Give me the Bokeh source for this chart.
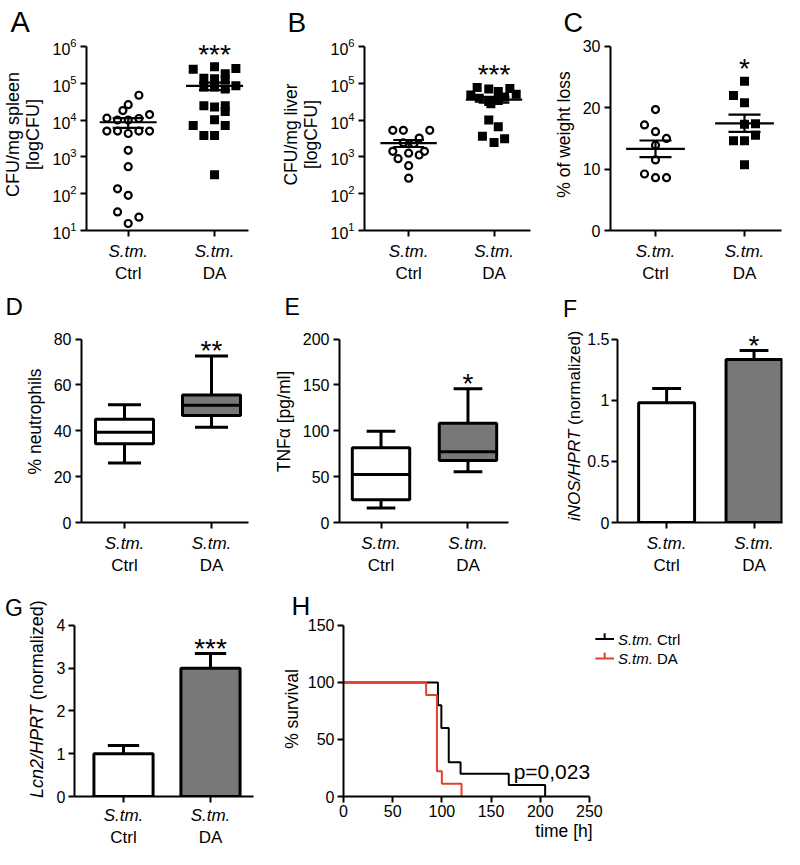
import numpy as np
from bokeh.plotting import figure
from bokeh.models import Range1d, FixedTicker, LinearAxis, Div
from bokeh.layouts import column, row
from bokeh.embed import file_html
from bokeh.resources import INLINE
from bokeh.core.properties import value

FONT = "Liberation Sans"
GRAY = "#787878"
RED = "#e2422c"

# ---------------- data ----------------
groups = ["Ctrl", "DA"]
prefix = "S.tm."
stars = {"A": "***", "B": "***", "C": "*", "D": "**", "E": "*", "F": "*", "G": "***"}

# A: CFU / mg spleen
a_ctrl = [47000, 26000, 18000, 14000, 11200, 10000, 10000, 11000, 5000, 5000,
          5000, 5000, 4300, 1500, 540, 135, 90, 32, 23, 15.5]
a_ctrl_slot = [1, 0, -0.5, 2, -2, -1, 0, 1, -2, -1, 1, 2, 0, 0, 0, -1, 0, -1, 1, 0]
a_da = [240000, 280000, 250000, 180000, 135000, 131000, 123000, 85000, 79000, 69000,
        79000, 24500, 22400, 24500, 17000, 10200, 7100, 7100, 3800, 3800, 325]
a_da_slot = [-2, 0, 2, 1, -1, 0, 1, 2, 0, 1, -1, -1, 0, 1, 1, 0, -2, 1, -1, 0, 0]

# B: CFU / mg liver
b_ctrl = [5250, 5250, 5250, 3240, 2400, 2290, 1410, 1410, 1260, 1120, 890, 575, 263]
b_ctrl_slot = [-1.5, -0.5, 2, 1, -0.5, 0.5, -1.5, 1.5, 0, 1, -1, 0, 0]
b_da = [76000, 69000, 72000, 48000, 59000, 50000, 39000, 32000, 34000, 42000,
        27500, 10000, 6600, 3600, 3100, 2450]
b_da_slot = [-1.6, -0.5, 1.5, -2.2, 0.4, 2.1, -1.4, -0.5, 0.4, 1, -0.3, -0.5, 0.4, -1.1, 1, 0]

# C: % of weight loss
c_ctrl = [19.7, 17.2, 16.1, 15.0, 13.9, 11.5, 9.2, 8.6, 8.6]
c_ctrl_slot = [0, -1, 0, 1, 0, 0, -1, 0, 1]
c_da = [24.3, 22.0, 20.8, 17.4, 17.3, 15.5, 14.6, 14.6, 10.7]
c_da_slot = [0, -1, 0, 1, 0, 1, -1, 0, 0]

# D: % neutrophils (box plot: min, q1, median, q3, max)
d_min = [25.9, 41.5]
d_q1 = [34.3, 46.7]
d_med = [39.4, 51.1]
d_q3 = [45.0, 55.6]
d_max = [51.4, 72.6]

# E: TNFa [pg/ml]
e_min = [15.7, 55.2]
e_q1 = [24.9, 67.6]
e_med = [52.3, 77.2]
e_q3 = [81.5, 108.2]
e_max = [99.6, 145.9]

# F: iNOS/HPRT
f_mean = [0.98, 1.333]
f_sem = [0.115, 0.074]

# G: Lcn2/HPRT
g_mean = [1.0, 3.0]
g_sem = [0.195, 0.345]

# H: survival
h_ctrl_t = [0, 96, 99.5, 107, 119, 168, 205]
h_ctrl_s = [100, 80, 60, 30, 20, 10, 0]
h_da_t = [0, 84, 95, 100, 120]
h_da_s = [100, 88.9, 22.2, 11.1, 0]
h_pvalue = "p=0,023"


# ---------------- helpers ----------------
def style_axis(ax, fs="16px"):
    ax.axis_line_width = 2
    ax.axis_line_color = "black"
    ax.major_tick_line_width = 2
    ax.major_tick_line_color = "black"
    ax.major_tick_out = 6
    ax.major_tick_in = 0
    ax.minor_tick_line_color = None
    ax.major_label_text_font = FONT
    ax.major_label_text_font_size = fs
    ax.major_label_text_color = "black"
    ax.major_label_standoff = 4
    ax.axis_label_text_font = FONT
    ax.axis_label_text_font_style = "normal"
    ax.axis_label_text_font_size = "17.5px"
    ax.axis_label_text_color = "black"
    ax.axis_label_standoff = 6


def xr_for(W, c, u):
    s = 1 - c / u
    return (s, s + W / u)


def yr_lin(lo, hi, L, E):
    return (lo, hi + E * (hi - lo) / L)


def yr_log(lo, hi, L, E):
    decs = np.log10(hi / lo)
    return (lo, hi * 10 ** (E * decs / L))


def make_fig(width, height, left, right, top, bottom, xr, yr, y_type="linear"):
    p = figure(width=width, height=height, x_range=Range1d(*xr), y_range=Range1d(*yr),
               y_axis_type=y_type, output_backend="svg", toolbar_location=None,
               min_border_left=left, min_border_right=right,
               min_border_top=top, min_border_bottom=bottom)
    p.xgrid.visible = False
    p.ygrid.visible = False
    p.outline_line_color = None
    for ax in p.axis:
        style_axis(ax)
    return p


def label_div(width, height, letter_txt, letter_left, letter_top, letter_fs,
              lab_left, lab_top, lab_fs, italic_part, normal_part):
    # panel letter + rotated axis title with an italic gene name
    html = (f'<div style="position:relative;width:{width}px;height:{height}px;'
            f'font-family:\'{FONT}\',Arial,sans-serif;color:black;">'
            f'<span style="position:absolute;left:{letter_left}px;top:{letter_top}px;'
            f'font-size:{letter_fs}px;line-height:1;">{letter_txt}</span>'
            f'<span style="position:absolute;left:{lab_left}px;top:{lab_top}px;'
            f'font-size:{lab_fs}px;line-height:1;white-space:nowrap;'
            f'transform-origin:0 0;transform:rotate(-90deg);">'
            f'<i>{italic_part}</i> {normal_part}</span></div>')
    return Div(text=html, width=width, height=height, margin=0)


def group_axes(p, standoff=5):
    ax = p.xaxis[0]
    ax.ticker = FixedTicker(ticks=[1, 2])
    ax.major_label_overrides = {1: prefix, 2: prefix}
    ax.major_label_text_font_style = "italic"
    ax.major_label_text_font_size = "17px"
    ax.major_label_standoff = standoff
    ax2 = LinearAxis(ticker=FixedTicker(ticks=[1, 2]),
                     major_label_overrides={1: groups[0], 2: groups[1]})
    style_axis(ax2, "17px")
    ax2.axis_line_color = None
    ax2.major_tick_line_color = None
    ax2.major_tick_out = 0
    ax2.major_label_standoff = 0
    p.add_layout(ax2, "below")


def letter(p, txt, dx, fs):
    p.title.text = txt
    p.title.text_font = FONT
    p.title.text_font_size = fs
    p.title.text_font_style = "normal"
    p.title.text_color = "black"
    p.title.align = "left"
    p.title.offset = dx
    p.title.standoff = 2


def star(p, x, y, s, gap):
    p.text(x=[x], y=[y], text=[s], text_font=value(FONT), text_font_size="28px",
           text_align="center", text_baseline="middle", y_offset=6.4 - gap,
           text_color="black")


def scatter_panel(p, ctrl, ctrl_slot, da, da_slot, u):
    sw = 11.0 / u
    p.scatter(1 + np.array(ctrl_slot) * sw, ctrl, marker="circle", size=7,
              fill_color=None, line_color="black", line_width=2.2)
    p.scatter(2 + np.array(da_slot) * sw, da, marker="square", size=9,
              fill_color="black", line_color=None)
    for i, vals in enumerate([ctrl, da]):
        v = np.array(vals, dtype=float)
        m = v.mean()
        se = v.std(ddof=1) / np.sqrt(len(v))
        x = i + 1
        p.segment(x0=[x - 0.33, x, x - 0.18, x - 0.18], y0=[m, m - se, m - se, m + se],
                  x1=[x + 0.33, x, x + 0.18, x + 0.18], y1=[m, m + se, m - se, m + se],
                  line_color="black", line_width=2.2)


def box_panel(p, mn, q1, med, q3, mx, bw, cw):
    xs = [1, 2]
    p.segment(x0=xs, y0=q3, x1=xs, y1=mx, line_color="black", line_width=3)
    p.segment(x0=xs, y0=mn, x1=xs, y1=q1, line_color="black", line_width=3)
    p.segment(x0=[x - cw / 2 for x in xs], y0=mx, x1=[x + cw / 2 for x in xs], y1=mx,
              line_color="black", line_width=3)
    p.segment(x0=[x - cw / 2 for x in xs], y0=mn, x1=[x + cw / 2 for x in xs], y1=mn,
              line_color="black", line_width=3)
    p.vbar(x=xs, bottom=q1, top=q3, width=bw, fill_color=["white", GRAY],
           line_color="black", line_width=3)
    p.segment(x0=[x - bw / 2 for x in xs], y0=med, x1=[x + bw / 2 for x in xs], y1=med,
              line_color="black", line_width=3)


def bar_panel(p, mean, sem, bw, cw):
    xs = [1, 2]
    tops = [m + s for m, s in zip(mean, sem)]
    p.segment(x0=xs, y0=mean, x1=xs, y1=tops, line_color="black", line_width=3)
    p.segment(x0=[x - cw / 2 for x in xs], y0=tops, x1=[x + cw / 2 for x in xs], y1=tops,
              line_color="black", line_width=3)
    p.vbar(x=xs, bottom=0, top=mean, width=bw, fill_color=["white", GRAY],
           line_color="black", line_width=3)


# ---------------- row 1 ----------------
R1H, R1T, L1, E1 = 285, 38, 188, 8
R1B = R1H - R1T - L1 - E1
fA = make_fig(278, R1H, 81, 30, R1T, R1B, xr_for(167, 43, 89), yr_log(10, 1e6, L1, E1), "log")
fA.yaxis.bounds = (10, 1e6)
fA.yaxis.ticker = FixedTicker(ticks=[1e1, 1e2, 1e3, 1e4, 1e5, 1e6])
fA.yaxis.axis_label = "CFU/mg spleen\n[logCFU]"
fA.yaxis.axis_label_text_font_size = "18px"
fA.yaxis.axis_label_text_line_height = 1.0
group_axes(fA)
scatter_panel(fA, a_ctrl, a_ctrl_slot, a_da, a_da_slot, 89)
star(fA, 2, max(a_da), stars["A"], 19)
letter(fA, "A", -76, "29px")

fB = make_fig(262, R1H, 79, 10, R1T, R1B, xr_for(173, 46, 89), yr_log(10, 1e6, L1, E1), "log")
fB.yaxis.bounds = (10, 1e6)
fB.yaxis.ticker = FixedTicker(ticks=[1e1, 1e2, 1e3, 1e4, 1e5, 1e6])
fB.yaxis.axis_label = "CFU/mg liver\n[logCFU]"
fB.yaxis.axis_label_text_line_height = 1.0
group_axes(fB)
scatter_panel(fB, b_ctrl, b_ctrl_slot, b_da, b_da_slot, 89)
star(fB, 2, max(b_da), stars["B"], 19)
letter(fB, "B", -77, "28px")

fC = make_fig(244, R1H, 70, 3, R1T, R1B, xr_for(171, 45, 89), yr_lin(0, 30, L1, E1))
fC.yaxis.bounds = (0, 30)
fC.yaxis.ticker = FixedTicker(ticks=[0, 10, 20, 30])
fC.yaxis.axis_label = "% of weight loss"
group_axes(fC)
scatter_panel(fC, c_ctrl, c_ctrl_slot, c_da, c_da_slot, 89)
star(fC, 2, max(c_da), stars["C"], 19)
letter(fC, "C", -47, "27px")

# ---------------- row 2 ----------------
R2H, R2T, L2, E2 = 292, 35, 188, 19
R2B = R2H - R2T - L2 - E2
fD = make_fig(270, R2H, 81, 22, R2T, R2B, xr_for(167, 43, 87), yr_lin(0, 80, L2, E2))
fD.yaxis.bounds = (0, 80)
fD.yaxis.ticker = FixedTicker(ticks=[0, 20, 40, 60, 80])
fD.yaxis.axis_label = "% neutrophils"
group_axes(fD)
box_panel(fD, d_min, d_q1, d_med, d_q3, d_max, 0.667, 0.38)
star(fD, 2, d_max[1], stars["D"], 11.5)
letter(fD, "D", -76, "24px")

fE = make_fig(260, R2H, 67, 22, R2T, R2B, xr_for(171, 42, 88), yr_lin(0, 200, L2, E2))
fE.yaxis.bounds = (0, 200)
fE.yaxis.ticker = FixedTicker(ticks=[0, 50, 100, 150, 200])
fE.yaxis.axis_label = "TNFα [pg/ml]"
group_axes(fE)
box_panel(fE, e_min, e_q1, e_med, e_q3, e_max, 0.66, 0.33)
star(fE, 2, e_max[1], stars["E"], 11.5)
letter(fE, "E", -55, "23px")

# label strip for F (panel letter + mixed-style axis title)
tF = label_div(54, R2H, "F", 33, 13, 23, 36, R2H - R2B - 7 + 1, 17,
               "iNOS/HPRT", "(normalized)")

fF = make_fig(200, R2H, 30, 2, R2T, R2B, xr_for(168, 50, 89), yr_lin(0, 1.5, L2, E2))
fF.yaxis.bounds = (0, 1.5)
fF.yaxis.ticker = FixedTicker(ticks=[0, 0.5, 1, 1.5])
fF.yaxis.major_label_overrides = {0: "0", 0.5: "0.5", 1: "1", 1.5: "1.5"}
fF.yaxis.major_label_standoff = 2
group_axes(fF)
bar_panel(fF, f_mean, f_sem, 0.64, 0.33)
star(fF, 2, f_mean[1] + f_sem[1], stars["F"], 11.5)

# ---------------- row 3 ----------------
R3H, R3T, L3, E3 = 272, 44, 176, 4
R3B = R3H - R3T - L3 - E3
tG = label_div(46, R3H, "G", 5, 20, 23, 27.5, R3H - R3B - 3, 18,
               "Lcn2/HPRT", "(normalized)")

fG = make_fig(232, R3H, 28, 25, R3T, R3B, xr_for(179, 49, 87), yr_lin(0, 4, L3, E3))
fG.yaxis.bounds = (0, 4)
fG.yaxis.ticker = FixedTicker(ticks=[0, 1, 2, 3, 4])
fG.yaxis.major_label_standoff = 3
group_axes(fG, 3)
bar_panel(fG, g_mean, g_sem, 0.68, 0.36)
star(fG, 2, g_mean[1] + g_sem[1], stars["G"], 11.5)

HPX = 0.997  # px per hour
H_W = 447
fH = make_fig(506, R3H, 59, 0, R3T, R3B, (0, H_W / HPX), yr_lin(0, 150, L3, E3))
fH.xaxis.bounds = (0, 250)
fH.yaxis.bounds = (0, 150)
fH.xaxis.ticker = FixedTicker(ticks=[0, 50, 100, 150, 200, 250])
fH.yaxis.ticker = FixedTicker(ticks=[0, 50, 100, 150])
fH.xaxis.major_label_standoff = 2
fH.xaxis.axis_label_standoff = 1
fH.yaxis.major_label_standoff = 3
fH.yaxis.axis_label_standoff = 3
fH.xaxis.axis_label = "time [h]"
fH.yaxis.axis_label = "% survival"
fH.step(h_ctrl_t, h_ctrl_s, mode="after", line_color="black", line_width=2)
fH.step(h_da_t, h_da_s, mode="after", line_color=RED, line_width=2)
fH.text(x=[173], y=[21.5], text=[h_pvalue], text_font=value(FONT), text_font_size="21px",
        text_baseline="middle", text_align="left", text_color="black")
# legend (custom, to allow italic species name)
ypx = 150 / L3
leg_x0, leg_x1 = 256, 275
for yy, col, lab in [(150 - 14 * ypx, "black", groups[0]), (150 - 34 * ypx, RED, groups[1])]:
    fH.segment(x0=[leg_x0, (leg_x0 + leg_x1) / 2], y0=[yy, yy],
               x1=[leg_x1, (leg_x0 + leg_x1) / 2], y1=[yy, yy + 6 * ypx],
               line_color=col, line_width=2)
    fH.text(x=[279], y=[yy], text=[prefix], text_font=value(FONT), text_font_size="15px",
            text_font_style="italic", text_baseline="middle", text_align="left", text_color="black")
    fH.text(x=[279], y=[yy], text=[lab], text_font=value(FONT), text_font_size="15px",
            x_offset=39, text_baseline="middle", text_align="left", text_color="black")
letter(fH, "H", -52, "26px")

layout = column(row(fA, fB, fC), row(fD, fE, tF, fF), row(tG, fG, fH))
open("out.html", "w").write(file_html(layout, INLINE))
